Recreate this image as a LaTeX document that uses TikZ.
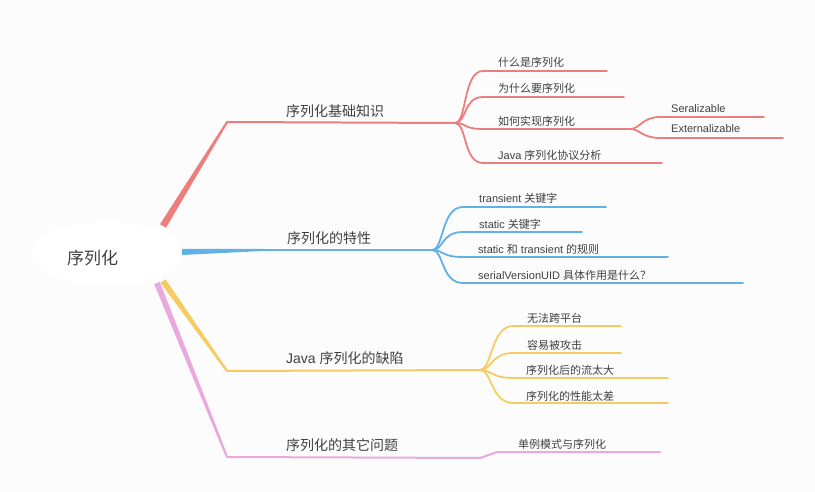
\documentclass[tikz,border=0pt]{standalone}
\usepackage{fontspec}
\setmainfont{Noto Sans CJK SC}
\newfontfamily\latn{Liberation Sans}
\definecolor{bgc}{HTML}{FCFCFC}
\definecolor{cred}{HTML}{EE7D7D}
\definecolor{cblue}{HTML}{62B0E5}
\definecolor{cyel}{HTML}{F8CB62}
\definecolor{cpink}{HTML}{E9A8DE}
\definecolor{ctxt}{HTML}{404040}
\tikzset{
  leaf/.style={anchor=west, inner sep=0pt, text=ctxt, text height=0.76em, text depth=0em, yshift=-1.2pt, font=\fontsize{11}{13}\selectfont},
  mainlbl/.style={anchor=west, inner sep=0pt, text=ctxt, text height=0.76em, text depth=0em, yshift=-1.8pt, font=\fontsize{14}{16}\selectfont},
  rootlbl/.style={inner sep=0pt, text=ctxt, text height=0.76em, text depth=0em, yshift=-2.5pt, font=\fontsize{17}{19}\selectfont},
  edge/.style={line width=1.8pt, line cap=round, line join=round},
  trunk/.style={line width=2pt, line cap=round, line join=round},
}
\begin{document}
\begin{tikzpicture}[x=1pt,y=-1pt]
\useasboundingbox (0,0) rectangle (815,492);
\fill[bgc] (0,0) rectangle (815,492);

% root
\fill[white] (107.5,253.5) ellipse [x radius=76, y radius=32];
\node[rootlbl] (root) at (92.5,258) {序列化};

% ---------- junction coordinates
\coordinate (rS) at (227,122);
\coordinate (rJ) at (455,123);
\coordinate (bS) at (262,250);
\coordinate (bJ) at (432,250);
\coordinate (yS) at (227,371);
\coordinate (yJ) at (480,370);
\coordinate (pS) at (227,457);
\coordinate (pK) at (480,458);
\coordinate (pC) at (497,452);
\coordinate (pE) at (660,452);

% ---------- tapered roots of branches
\fill[cpink] (154.2,284.1) -- (159.8,281.9) -- (228,456.6) -- (226,457.4) -- cycle;
\fill[cyel] (160.5,282.7) -- (165.5,279.3) -- (228,370.5) -- (226,371.5) -- cycle;
\fill[cred] (160,224.2) -- (166,227.8) -- (228,122.5) -- (226.2,121.5) -- cycle;
\fill[cblue] (182,249) -- (182,255) -- (263,251) -- (263,249) -- cycle;

% ---------- main horizontal lines
\draw[trunk,cred] (rS) -- (rJ);
\draw[trunk,cblue] (bS) -- (bJ);
\draw[trunk,cyel] (yS) -- (yJ);
\draw[trunk,cpink] (pS) -- (pK) -- (pC) -- (pE);

% ---------- red children
\coordinate (r1) at (483,71);  \coordinate (r1e) at (607,71);
\coordinate (r2) at (483,97);  \coordinate (r2e) at (624,97);
\coordinate (r3) at (483,129); \coordinate (rF) at (630,129);
\coordinate (r4) at (483,163); \coordinate (r4e) at (662,163);
\coordinate (r5) at (660,117); \coordinate (r5e) at (764,117);
\coordinate (r6) at (660,138); \coordinate (r6e) at (783,138);
\foreach \a/\b in {r1/r1e,r2/r2e,r3/rF,r4/r4e}
  \draw[edge,cred] (rJ) .. controls +(12,0) and +(-20,0) .. (\a) -- (\b);
\foreach \a/\b in {r5/r5e,r6/r6e}
  \draw[edge,cred] (rF) .. controls +(10,0) and +(-18,0) .. (\a) -- (\b);

% ---------- blue children
\coordinate (b1) at (463,207); \coordinate (b1e) at (606,207);
\coordinate (b2) at (463,232); \coordinate (b2e) at (582,232);
\coordinate (b3) at (463,257); \coordinate (b3e) at (668,257);
\coordinate (b4) at (463,283); \coordinate (b4e) at (743,283);
\foreach \a/\b in {b1/b1e,b2/b2e,b3/b3e,b4/b4e}
  \draw[edge,cblue] (bJ) .. controls +(12,0) and +(-22,0) .. (\a) -- (\b);

% ---------- yellow children
\coordinate (y1) at (513,326); \coordinate (y1e) at (621,326);
\coordinate (y2) at (513,353); \coordinate (y2e) at (621,353);
\coordinate (y3) at (513,378); \coordinate (y3e) at (668,378);
\coordinate (y4) at (513,403); \coordinate (y4e) at (668,403);
\foreach \a/\b in {y1/y1e,y2/y2e,y3/y3e,y4/y4e}
  \draw[edge,cyel] (yJ) .. controls +(12,0) and +(-22,0) .. (\a) -- (\b);

% ---------- labels
\node[mainlbl] (lr) at (286,111) {序列化基础知识};
\node[mainlbl] (lb) at (287,238) {序列化的特性};
\node[mainlbl] (ly) at (286,358) {{\latn Java }序列化的缺陷};
\node[mainlbl] (lp) at (286,445) {序列化的其它问题};

\node[leaf] (t1) at (498,62) {什么是序列化};
\node[leaf] (t2) at (498,88) {为什么要序列化};
\node[leaf] (t3) at (498,121) {如何实现序列化};
\node[leaf] (t4) at (498,155) {{\latn Java }序列化协议分析};
\node[leaf] (t5) at (671,108) {\latn Seralizable};
\node[leaf] (t6) at (671,128) {\latn Externalizable};

\node[leaf] (u1) at (479,198) {{\latn transient }关键字};
\node[leaf] (u2) at (479,224) {{\latn static }关键字};
\node[leaf] (u3) at (478,249) {{\latn static }和{\latn\ transient }的规则};
\node[leaf] (u4) at (478,275) {{\latn serialVersionUID }具体作用是什么？};

\node[leaf] (v1) at (527,318) {无法跨平台};
\node[leaf] (v2) at (527,344) {容易被攻击};
\node[leaf] (v3) at (526,369) {序列化后的流太大};
\node[leaf] (v4) at (526,395) {序列化的性能太差};

\node[leaf] (w1) at (518,443) {单例模式与序列化};
\end{tikzpicture}
\end{document}
